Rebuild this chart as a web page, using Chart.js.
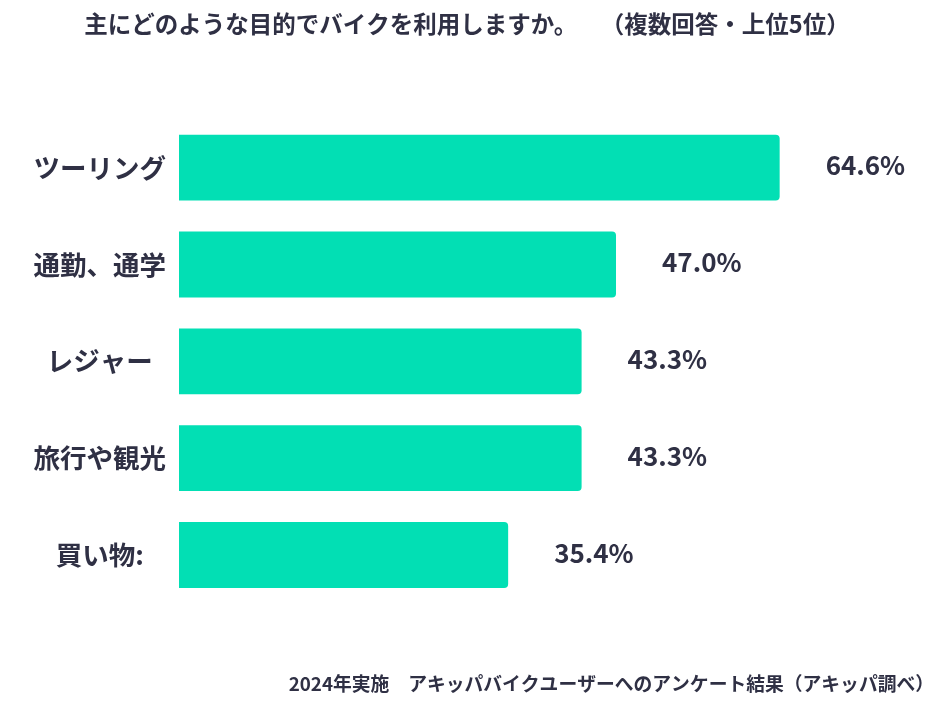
<!DOCTYPE html>
<html>
<head>
<meta charset="utf-8">
<script src="https://cdn.jsdelivr.net/npm/chart.js@4"></script>
<style>
html,body{margin:0;padding:0;background:#fff;}
#wrap{width:934px;height:701px;position:relative;}
</style>
</head>
<body>
<div id="wrap"><canvas id="c"></canvas></div>
<script>
const titleText = "主にどのような目的でバイクを利用しますか。　　（複数回答・上位5位）";
const footerText = "2024年実施　アキッパバイクユーザーへのアンケート結果（アキッパ調べ）";
const categories = ["ツーリング", "通勤、通学", "レジャー", "旅行や観光", "買い物:"];
const values = [64.6, 47.0, 43.3, 43.3, 35.4];

const FONT = "'Noto Sans CJK JP', 'Noto Sans', sans-serif";
const TEXT = "#2f3044";
const BAR = "#02dfb4";

const valueLabels = {
  id: 'valueLabels',
  afterDatasetsDraw(chart) {
    const ctx = chart.ctx;
    const meta = chart.getDatasetMeta(0);
    ctx.save();
    ctx.font = "bold 26px " + FONT;
    ctx.fillStyle = TEXT;
    ctx.textAlign = 'left';
    ctx.textBaseline = 'middle';
    meta.data.forEach((bar, i) => {
      ctx.fillText(values[i].toFixed(1) + '%', bar.x + 46, bar.y - 2);
    });
    ctx.restore();
  }
};

new Chart(document.getElementById('c'), {
  type: 'bar',
  data: {
    labels: categories,
    datasets: [{
      data: values,
      backgroundColor: BAR,
      borderRadius: 4,
      barPercentage: 0.68,
      categoryPercentage: 1.0
    }]
  },
  options: {
    indexAxis: 'y',
    responsive: true,
    maintainAspectRatio: false,
    animation: false,
    layout: { padding: 0 },
    plugins: {
      legend: { display: false },
      tooltip: { enabled: false },
      title: {
        display: true,
        text: titleText,
        color: TEXT,
        font: { family: FONT, size: 23.5, weight: 'bold' },
        padding: { top: 10, bottom: 81 }
      },
      subtitle: {
        display: true,
        text: footerText,
        position: 'bottom',
        align: 'end',
        color: TEXT,
        font: { family: FONT, size: 18.8, weight: 'bold' },
        padding: { top: 69, bottom: 6 }
      }
    },
    scales: {
      x: {
        display: false,
        min: 0,
        max: 81.2
      },
      y: {
        grid: { display: false, drawTicks: false },
        border: { display: false },
        afterFit(scale) { scale.width = 179; },
        ticks: {
          crossAlign: 'center',
          padding: 13,
          color: TEXT,
          font: { family: FONT, size: 26.5, weight: 'bold' }
        }
      }
    }
  },
  plugins: [valueLabels]
});
</script>
</body>
</html>
